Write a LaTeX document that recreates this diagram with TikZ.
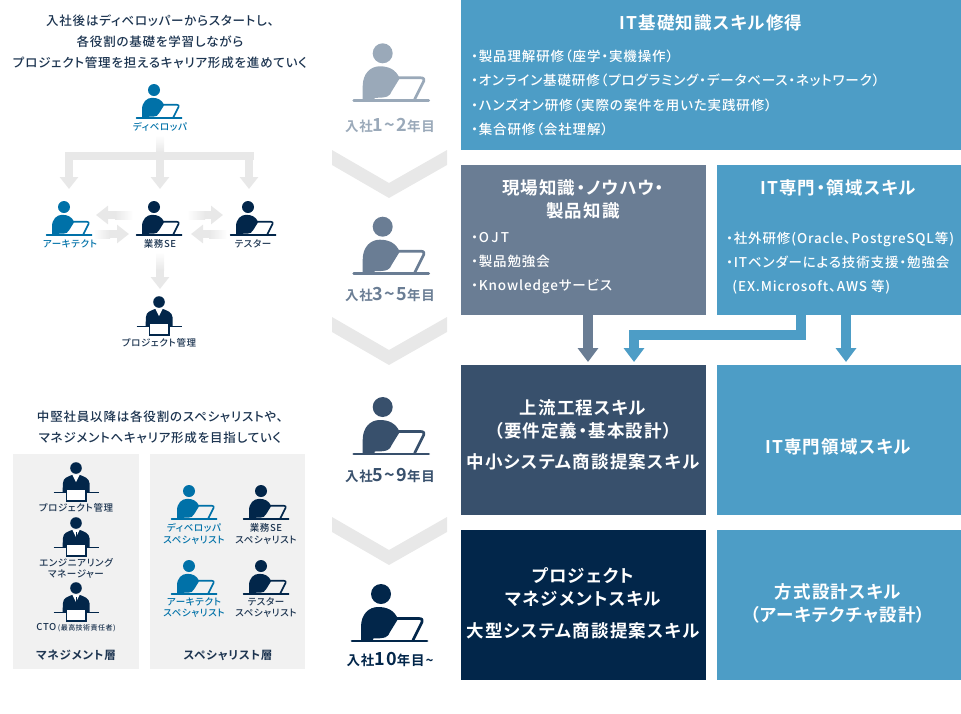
\documentclass[tikz,border=0pt]{standalone}
\usepackage{fontspec}
\setmainfont[RawFeature=+palt, LetterSpace=6.5, UprightFont={* Medium}, BoldFont={* Bold}]{Noto Sans CJK JP}
\usetikzlibrary{arrows.meta,positioning}
\definecolor{skyblue}{HTML}{4D9DC6}
\definecolor{devblue}{HTML}{0071A8}
\definecolor{navy}{HTML}{02264A}
\definecolor{slate}{HTML}{38506C}
\definecolor{steel}{HTML}{6A7D94}
\definecolor{mist}{HTML}{9AA9B9}
\definecolor{flowgray}{HTML}{E8E8E8}
\definecolor{panelgray}{HTML}{F1F1F1}
\definecolor{inktext}{HTML}{1C3450}
\tikzset{
  box/.style={minimum width=#1, minimum height=150pt, inner sep=0pt, anchor=north west},
  title/.style={text=white, font=\bfseries\fontsize{17.5}{23}\selectfont, align=center},
  bullets/.style={text=white, font=\fontsize{13.5}{24.3}\selectfont, align=left, anchor=west, inner sep=0pt},
  lead/.style={text=inktext, font=\fontsize{12.5}{21}\selectfont, align=center},
  role/.style={font=\fontsize{9.5}{11.5}\selectfont, align=center, text=#1},
  role/.default=inktext,
  term/.style={font=\bfseries\fontsize{13.5}{16}\selectfont, text=#1},
  layer/.style={text=inktext, font=\bfseries\fontsize{11.5}{14}\selectfont},
  graylink/.style={draw=flowgray, line width=8pt, -{Triangle[length=12pt,width=18pt]}},
  bluelink/.style={line width=9.5pt, -{Triangle[length=14pt,width=20pt]}, shorten >=3pt},
  pics/worker/.style 2 args={code={
    \begin{scope}[scale=#2]
    \fill[#1] (0,0) circle (10);
    \fill[#1] (-20,47) -- (-20,33) .. controls (-20,20) and (-12,13) .. (-3,13)
      .. controls (6,13) and (13,16) .. (17,25) -- (9,38)
      .. controls (7,43) and (5,44.5) .. (-8,44.5) -- (-8,47) -- cycle;
    \draw[#1, line width=#2*2.7pt, line join=round, line cap=round]
      (16,24.5) -- (38,24.5) .. controls (41,24.5) and (42,26) .. (41,28) -- (32,46);
    \draw[#1, line width=#2*2.7pt, line cap=round] (-29,47) -- (46,47);
    \end{scope}
  }},
  pics/manager/.style={code={
    \fill[navy] (0,0) circle (5.8);
    \fill[navy] (-13.5,24) -- (-13,15) .. controls (-13,10) and (-8,8.5) .. (-4,7)
      -- (4,7) .. controls (8,8.5) and (13,10) .. (13.5,15) -- (13.5,24) -- cycle;
    \fill[white] (-3.5,7) -- (0,14) -- (3.5,7) -- cycle;
    \draw[navy, line width=1.1pt] (-22.5,24.5) -- (22.5,24.5);
    \draw[navy, fill=white, line width=1.5pt] (-9.5,21.5) rectangle (10,33);
    #1
  }},
  pics/manager/.default={},
}
\begin{document}
\begin{tikzpicture}[x=1pt, y=-1pt]
  \useasboundingbox (0,0) rectangle (961,713);
  % right column
  \node (base) [box=500pt, minimum height=150pt, fill=skyblue] at (461,0) {};
  \node (genba) [box=245pt, fill=steel] at (461,165) {};
  \node (expert) [box=244pt, fill=skyblue] at (717,165) {};
  \node (upper) [box=245pt, fill=slate] at (461,365) {};
  \node (domain) [box=244pt, fill=skyblue] at (717,365) {};
  \node (pm) [box=245pt, fill=navy] at (461,530) {};
  \node (method) [box=244pt, fill=skyblue] at (717,530) {};

  \node (basetitle) [title] at (711,23) {IT基礎知識スキル修得};
  \node (baselist) [bullets] at (471,93) {・製品理解研修（座学・実機操作）\\・オンライン基礎研修（プログラミング・データベース・ネットワーク）\\・ハンズオン研修（実際の案件を用いた実践研修）\\・集合研修（会社理解）};
  \node (genbatitle) [title] at (583,199) {現場知識・ノウハウ・\\製品知識};
  \node (genbalist) [bullets] at (471,263) {・O\,J\,T\\・製品勉強会\\・Knowledgeサービス};
  \node (experttitle) [title] at (838,188) {IT専門・領域スキル};
  \node (expertlist) [bullets] at (726,263) {・社外研修(Oracle、PostgreSQL等)\\・ITベンダーによる技術支援・勉強会\\\ \,(EX.Microsoft、AWS 等)};
  \node (uppertitle) [title] at (583,419.5) {上流工程スキル\\（要件定義・基本設計）};
  \node (uppersub) [title] at (583,462) {中小システム商談提案スキル};
  \node (domaintitle) [title] at (838,447) {IT専門領域スキル};
  \node (pmtitle) [title] at (583,587.5) {プロジェクト\\マネジメントスキル};
  \node (pmsub) [title] at (583,631) {大型システム商談提案スキル};
  \node (methodtitle) [title] at (838,603.5) {方式設計スキル\\（アーキテクチャ設計）};

  % arrows between the boxes
  \coordinate (knowhow) at (588,340);
  \coordinate (branch) at (801,335);
  \coordinate (drop) at (634,335);
  \coordinate (straight) at (846,340);
  \draw[bluelink, draw=steel] (genba.south -| knowhow) -- (upper.north -| knowhow);
  \draw[bluelink, draw=skyblue] (expert.south -| branch) -- (branch) -- (drop) -- (upper.north -| drop);
  \draw[bluelink, draw=skyblue] (expert.south -| straight) -- (domain.north -| straight);

  % career steps
  \foreach \y in {150,317,517}
    \fill[flowgray] (332,\y) -- (389,\y+33) -- (447,\y) -- (447,\y+15)
      -- (389,\y+48) -- (332,\y+15) -- cycle;
  \pic at (382.7,53.3) {worker={mist}{1}};
  \pic at (382.7,226.7) {worker={steel}{1}};
  \pic at (382.7,407) {worker={slate}{1}};
  \pic at (381,594) {worker={navy}{1}};
  \node (year1) [term=mist] at (390,125) {入社\fontsize{18}{16}\selectfont 1\textasciitilde 2\fontsize{13.5}{16}\selectfont 年目};
  \node (year3) [term=steel] at (390,294) {入社\fontsize{18}{16}\selectfont 3\textasciitilde 5\fontsize{13.5}{16}\selectfont 年目};
  \node (year5) [term=slate] at (390,475) {入社\fontsize{18}{16}\selectfont 5\textasciitilde 9\fontsize{13.5}{16}\selectfont 年目};
  \node (year10) [term=navy] at (390,659) {入社\fontsize{18}{16}\selectfont 10\fontsize{13.5}{16}\selectfont 年目\textasciitilde};

  % career paths
  \node (leadtop) [lead] at (160,42) {入社後はディベロッパーからスタートし、\\各役割の基礎を学習しながら\\プロジェクト管理を担えるキャリア形成を進めていく};
  \pic at (154,90) {worker={devblue}{.6}};
  \pic at (64,207) {worker={devblue}{.6}};
  \pic at (154,207) {worker={navy}{.6}};
  \pic at (248,207) {worker={navy}{.6}};
  \pic at (159,302) {manager};
  \node (dev) [role=devblue] at (160,127) {ディベロッパ};
  \node (arch) [role=devblue] at (70,244) {アーキテクト};
  \node (se) [role] at (160,244) {業務SE};
  \node (tester) [role] at (253,244) {テスター};
  \node (lead) [role] at (159,343) {プロジェクト管理};

  \coordinate (fork) at (160,156);
  \shade[top color=white, bottom color=flowgray] (156,135) rectangle (164,152);
  \fill[flowgray] (65,152) rectangle (254,160);
  \draw[graylink] (fork -| arch) ++(-1,0) -- +(0,33);
  \draw[graylink] (fork) -- (160,189);
  \draw[graylink] (fork -| tester) ++(-4,0) -- +(0,33);
  \foreach \from/\mid/\to/\y/\lc/\rc in {133/115/96/215/flowgray/white, 93/110/129/234/white/flowgray,
      187/205/223/215/white/flowgray, 227/209/191/234/flowgray/white} {
    \shade[left color=\lc, right color=\rc] (\from,\y-4) rectangle (\mid,\y+4);
    \draw[graylink] (\mid,\y) -- (\to,\y);
  }
  \shade[top color=white, bottom color=flowgray] (156,252) rectangle (164,270);
  \draw[graylink] (160,270) -- (160,289);

  % layers
  \node (leadmid) [lead] at (160,427) {中堅社員以降は各役割のスペシャリストや、\\マネジメントへキャリア形成を目指していく};
  \fill[panelgray] (13,454) rectangle (139,669);
  \fill[panelgray] (150,454) rectangle (305,669);
  \pic at (76,468) {manager};
  \pic at (76,523) {manager={\draw[navy, line width=.8pt] (0,9) -- (0,14);}};
  \pic at (76,588) {manager={\draw[navy, line width=.8pt] (0,9) -- (0,14);}};
  \pic at (189,491) {worker={devblue}{.6}};
  \pic at (261,491) {worker={navy}{.6}};
  \pic at (189,566) {worker={devblue}{.6}};
  \pic at (261,566) {worker={navy}{.6}};
  \node (pmrole) [role] at (76,508) {プロジェクト管理};
  \node (emrole) [role] at (76,568.5) {エンジニアリング\\マネージャー};
  \node (cto) [role] at (76,628) {CTO\hspace{1.5pt}\fontsize{7}{11}\selectfont (最高技術責任者)};
  \node (devspec) [role=devblue] at (194,534) {ディベロッパ\\スペシャリスト};
  \node (sespec) [role] at (266,534) {業務SE\\スペシャリスト};
  \node (archspec) [role=devblue] at (194,607.5) {アーキテクト\\スペシャリスト};
  \node (testspec) [role] at (266,607.5) {テスター\\スペシャリスト};
  \node (mgmt) [layer] at (76,655) {マネジメント層};
  \node (spec) [layer] at (228,655) {スペシャリスト層};
\end{tikzpicture}
\end{document}
